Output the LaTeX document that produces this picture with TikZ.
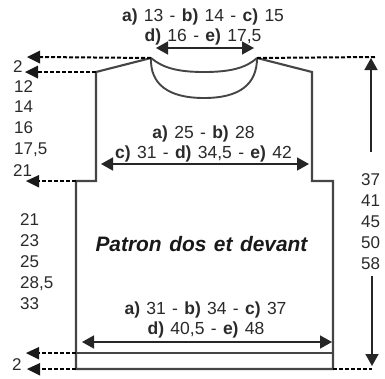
\documentclass[tikz,border=0pt]{standalone}
\usepackage{fontspec}
\setmainfont[WordSpace=1.3]{Liberation Sans}
\usetikzlibrary{arrows.meta}
\definecolor{outl}{HTML}{454545}
\definecolor{txt}{HTML}{2A2A2A}
\tikzset{
  x=1pt,y=-1pt,
  pat/.style={draw=outl,line width=2.1pt,line join=miter},
  patthin/.style={draw=outl,line width=1.9pt},
  meas/.style={draw=black!85,line width=1.6pt,-{Triangle[length=12pt,width=13pt]}},
  measb/.style={draw=black!85,line width=1.6pt,{Triangle[length=12pt,width=13pt]}-{Triangle[length=12pt,width=13pt]}},
  guide/.style={draw=black,line width=2pt,dash pattern=on 4pt off 2pt},
  lab/.style={font=\fontsize{17.5}{20}\selectfont,text=txt,inner sep=0pt,align=center,text height=12.5pt,text depth=0pt},
  num/.style={font=\fontsize{17}{20}\selectfont,text=txt,inner sep=0pt,anchor=west,text height=12pt,text depth=0pt},
}
\begin{document}
\begin{tikzpicture}
\useasboundingbox (0,0) rectangle (385,378);
\fill[white] (0,0) rectangle (385,378);
% named points
\coordinate (nl) at (151,58);
\coordinate (nr) at (257,58);
\coordinate (sl) at (96,72);
\coordinate (sr) at (312,72);
\coordinate (al) at (96,181);
\coordinate (ar) at (312,181);
\coordinate (wl) at (76,181);
\coordinate (wr) at (333,181);
\coordinate (bl) at (76,369);
\coordinate (br) at (333,369);
\coordinate (hl) at (76,353);
\coordinate (hr) at (333,353);
% dashed guide ends
\coordinate (d1) at (38,57);
\coordinate (d2) at (36,72);
\coordinate (d3) at (37,181);
\coordinate (d4) at (38,353);
\coordinate (d5) at (39,369);
\coordinate (dr1) at (375,57);
\coordinate (dr2) at (372,369);
% outline
\draw[pat] (nl) -- (sl) -- (al) -- (wl) -- (bl) -- (br) -- (wr) -- (ar) -- (sr) -- (nr);
\draw[patthin] (hl) -- (hr);
% necklines
\draw[patthin] (nl) .. controls (163,68) and (178,72) .. (204,72) .. controls (230,72) and (246,68) .. (nr);
\draw[patthin] (nl) .. controls (150,84) and (168,98) .. (204,98) .. controls (240,98) and (257,84) .. (nr);
% dashed guides
\draw[guide] (nl) -- (d1);
\draw[guide] (sl) -- (d2);
\draw[guide] (wl) -- (d3);
\draw[guide] (hl) -- (d4);
\draw[guide] (bl) -- (d5);
\draw[guide] (nr) -- (dr1);
\draw[guide] (br) -- (dr2);
% dashed arrowheads
\fill[black!90] (27,57) -- (40,50.5) -- (40,63.5) -- cycle;
\fill[black!90] (25,72) -- (38,65.5) -- (38,78.5) -- cycle;
\fill[black!90] (26,181) -- (39,175) -- (39,187.5) -- cycle;
\fill[black!90] (26,353) -- (39,347) -- (39,359.5) -- cycle;
\fill[black!90] (27,369) -- (40,363) -- (40,375.5) -- cycle;
% measure arrows
\draw[measb] (156,48) -- (254,48);
\draw[measb] (101,164) -- (309,164);
\draw[measb] (82,342) -- (332,342);
\coordinate (ut) at (371,58);
\coordinate (ub) at (371,152);
\coordinate (lt) at (372,276);
\coordinate (lb) at (372,366);
\draw[meas] (ub) -- (ut);
\draw[meas] (lt) -- (lb);
% labels
\node[lab] (t1) at (203,15) {\textbf{a)} 13 - \textbf{b)} 14 - \textbf{c)} 15};
\node[lab] (t2) at (203,35) {\textbf{d)} 16 - \textbf{e)} 17,5};
\node[lab] (m1) at (203.5,132) {\textbf{a)} 25 - \textbf{b)} 28};
\node[lab] (m2) at (203.5,152) {\textbf{c)} 31 - \textbf{d)} 34,5 - \textbf{e)} 42};
\node[lab] (b1) at (205.5,308) {\textbf{a)} 31 - \textbf{b)} 34 - \textbf{c)} 37};
\node[lab] (b2) at (206,328) {\textbf{d)} 40,5 - \textbf{e)} 48};
\node[font=\fontsize{20.9}{23}\selectfont\bfseries\itshape,text=black!90,inner sep=0pt] (title) at (201.5,244) {Patron dos et devant};
% left numbers
\node[num] (n1) at (13,66) {2};
\node[num] (n2) at (14,86) {12};
\node[num] (n3) at (14,106) {14};
\node[num] (n4) at (14,127) {16};
\node[num] (n5) at (14,148) {17,5};
\node[num] (n6) at (13,170) {21};
\node[num] (n7) at (20,219) {21};
\node[num] (n8) at (20,240) {23};
\node[num] (n9) at (20,261) {25};
\node[num] (n10) at (20,282) {28,5};
\node[num] (n11) at (20,303) {33};
\node[num] (n12) at (12,364) {2};
% right numbers
\node[num] (r1) at (361,179) {37};
\node[num] (r2) at (361,200) {41};
\node[num] (r3) at (361,221) {45};
\node[num] (r4) at (361,242) {50};
\node[num] (r5) at (361,263) {58};
\end{tikzpicture}
\end{document}
